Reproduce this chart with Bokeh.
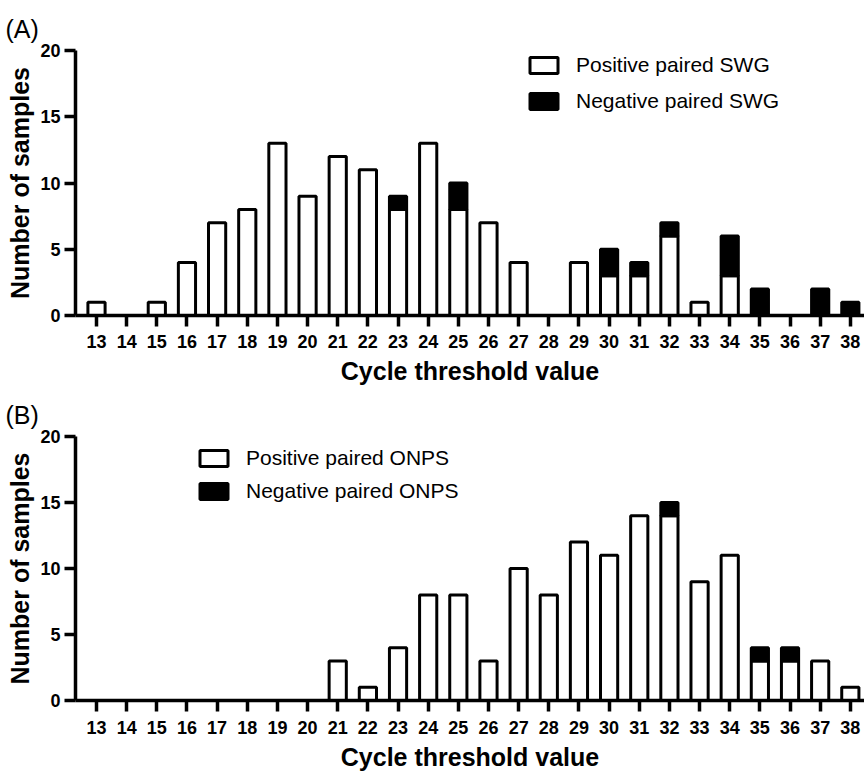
from bokeh.plotting import figure
from bokeh.models import FixedTicker, Legend, LegendItem, Range1d
from bokeh.layouts import column
from bokeh.embed import file_html
from bokeh.resources import INLINE

# ---------------- data ----------------
ct_values = [13, 14, 15, 16, 17, 18, 19, 20, 21, 22, 23, 24, 25,
             26, 27, 28, 29, 30, 31, 32, 33, 34, 35, 36, 37, 38]

swg_positive = [1, 0, 1, 4, 7, 8, 13, 9, 12, 11, 8, 13, 8,
                7, 4, 0, 4, 3, 3, 6, 1, 3, 0, 0, 0, 0]
swg_negative = [0, 0, 0, 0, 0, 0, 0, 0, 0, 0, 1, 0, 2,
                0, 0, 0, 0, 2, 1, 1, 0, 3, 2, 0, 2, 1]

onps_positive = [0, 0, 0, 0, 0, 0, 0, 0, 3, 1, 4, 8, 8,
                 3, 10, 8, 12, 11, 14, 14, 9, 11, 3, 3, 3, 1]
onps_negative = [0, 0, 0, 0, 0, 0, 0, 0, 0, 0, 0, 0, 0,
                 0, 0, 0, 0, 0, 0, 1, 0, 0, 1, 1, 0, 0]

y_ticks = [0, 5, 10, 15, 20]

FONT = "Liberation Sans"


def make_panel(tag, pos, neg, lab_pos, lab_neg, height, border_top,
               border_bottom, legend_loc, legend_spacing,
               label_standoff, axis_label_standoff, title_standoff):
    p = figure(width=864, height=height, output_backend="svg",
               toolbar_location=None,
               x_range=Range1d(12.3035, 38.47), y_range=Range1d(0, 20),
               min_border_left=75, min_border_right=0,
               min_border_top=border_top, min_border_bottom=border_bottom)
    p.outline_line_color = None
    p.xgrid.visible = False
    p.ygrid.visible = False
    p.background_fill_color = "white"
    p.border_fill_color = "white"

    # bars (zero counts are not drawn)
    xp = [c for c, v in zip(ct_values, pos) if v > 0]
    tp = [v for v in pos if v > 0]
    xn = [c for c, n in zip(ct_values, neg) if n > 0]
    bn = [v for v, n in zip(pos, neg) if n > 0]
    tn = [v + n for v, n in zip(pos, neg) if n > 0]

    r_pos = p.vbar(x=xp, top=tp, bottom=0, width=0.57,
                   fill_color="white", line_color="black", line_width=3)
    r_neg = p.vbar(x=xn, top=tn, bottom=bn, width=0.57,
                   fill_color="black", line_color="black", line_width=3)

    legend = Legend(items=[LegendItem(label=lab_pos, renderers=[r_pos]),
                           LegendItem(label=lab_neg, renderers=[r_neg])],
                    location=legend_loc, orientation="vertical",
                    glyph_width=35, glyph_height=20, label_standoff=15,
                    spacing=legend_spacing, padding=0, margin=0,
                    border_line_alpha=0, background_fill_alpha=0,
                    label_text_font=FONT, label_text_font_size="21px",
                    label_text_color="black")
    p.add_layout(legend)

    # axes
    for ax in (p.xaxis, p.yaxis):
        ax.axis_line_width = 3.5
        ax.axis_line_color = "black"
        ax.major_tick_line_width = 3.5
        ax.major_tick_line_color = "black"
        ax.major_tick_in = 0
        ax.major_tick_out = 11
        ax.minor_tick_line_color = None
        ax.major_label_text_font = FONT
        ax.major_label_text_font_size = "18px"
        ax.major_label_text_font_style = "bold"
        ax.major_label_text_color = "black"
        ax.axis_label_text_font = FONT
        ax.axis_label_text_font_size = "25px"
        ax.axis_label_text_font_style = "bold"
        ax.axis_label_text_color = "black"

    p.xaxis.ticker = FixedTicker(ticks=ct_values)
    p.xaxis.major_label_standoff = label_standoff
    p.xaxis.axis_label = "Cycle threshold value"
    p.xaxis.axis_label_standoff = axis_label_standoff

    p.yaxis.ticker = FixedTicker(ticks=y_ticks)
    p.yaxis.major_label_standoff = 4
    p.yaxis.axis_label = "Number of samples"
    p.yaxis.axis_label_standoff = 3

    p.title.text = tag
    p.title.align = "left"
    p.title.offset = -70
    p.title.text_font = FONT
    p.title.text_font_size = "25px"
    p.title.text_font_style = "normal"
    p.title.text_color = "black"
    p.title.standoff = title_standoff
    return p


pA = make_panel("(A)", swg_positive, swg_negative,
                "Positive paired SWG", "Negative paired SWG",
                391, 50, 76, (451, 202), 12, 8, 6, 16)
pB = make_panel("(B)", onps_positive, onps_negative,
                "Positive paired ONPS", "Negative paired ONPS",
                382, 45, 73, (121, 197), 9, 9, 6, 15)

layout = column(pA, pB, spacing=0)

open("out.html", "w").write(file_html(layout, INLINE))
